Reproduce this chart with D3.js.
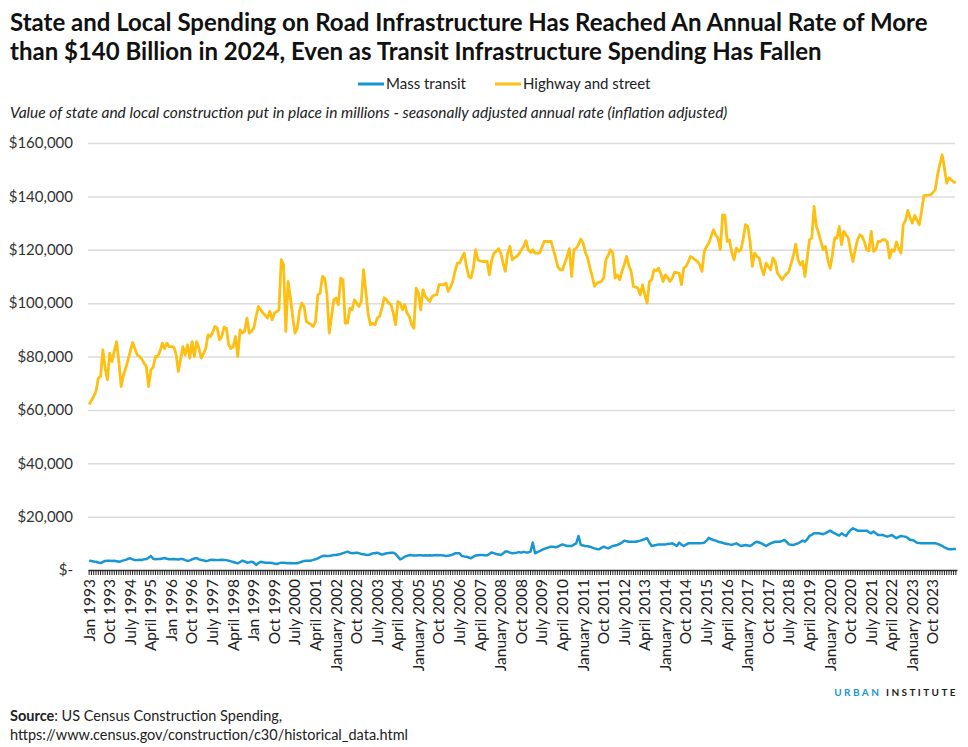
<!DOCTYPE html>
<html lang="en">
<head>
    <meta charset="UTF-8">
    <title>Road vs transit spending</title>
    <script src="https://d3js.org/d3.v7.min.js"></script>
    <style>
      body{
          margin: 0;
          background: #fff;
      }
      svg text{
          font-family: Lato, "Noto Sans", sans-serif;
      }
    </style>
</head>
<body>
    <script>
        // monthly values, Jan 1993 - Aug 2024, millions (SAAR, inflation adjusted)
        const startYear = 1993;
        const highway = [
            62000,63500,65000,67000,71900,72500,82500,75600,71250,81250,78100,82000,
            85600,78000,68750,73000,75600,78750,82000,85250,83000,80600,80000,79000,
            77500,76250,68750,75000,76000,80000,80000,82000,85000,83000,85000,83700,
            83700,83500,81000,74400,79000,83700,80600,84400,79400,85600,80000,85600,
            83000,79400,81000,83000,88100,87500,89000,91250,90600,86250,87500,91000,
            90600,84400,83000,83700,87500,80000,90000,88750,89500,94400,88750,89500,
            90600,95000,98750,97500,96250,95500,94400,97000,93750,96250,96800,97500,
            116250,114400,89400,108100,101900,95000,88750,90600,97000,100000,98750,93100,
            92500,92000,91250,93100,103100,103750,110000,109400,103100,88750,95000,101250,
            101900,99400,109400,108750,92500,92500,98100,97500,101250,100000,98750,100600,
            112500,104400,96000,91900,92500,91900,94400,95000,98000,102000,101250,100000,
            99400,96250,91900,100600,100000,97500,99400,96250,95000,92000,90600,105600,
            103750,97500,105000,102500,101500,100600,102500,103000,103100,106900,106900,106900,
            107500,104400,106000,108100,112000,115000,115000,117000,118750,113750,110000,109400,
            113000,120000,116250,115800,115600,115600,115600,110600,116000,118750,119400,120400,
            118750,115000,111900,118750,121250,116250,117000,117500,118500,120000,121250,123400,
            120000,119000,120000,118750,118750,118750,121000,123100,123100,123100,123100,120000,
            116900,113500,112500,112500,115000,117500,120400,110000,120000,120600,122000,124000,
            122500,119000,116900,113100,110000,106250,107500,107800,108100,109400,116250,118000,
            120000,118750,109400,110600,108750,112000,114400,117500,114000,111900,106250,106000,
            105600,103100,106900,103000,100000,108100,108750,112500,112100,113100,111000,108100,
            110600,109500,108100,109400,111600,111400,111250,106900,113100,113750,115500,117500,
            116900,116200,115600,114400,111900,119400,121250,122500,125000,127500,125500,124400,
            120000,133100,132900,123100,123750,119000,116250,120600,119400,120000,124000,129400,
            128750,123100,113750,118750,117500,116900,113100,110600,115000,113750,112500,116900,
            115600,111250,110000,108750,110000,111000,111900,115000,118000,122100,116250,114400,
            115600,110000,117000,123750,124400,136250,128750,126250,123000,120000,121250,116250,
            113100,118000,124400,124400,128750,121900,126900,125500,124400,119400,115600,120000,
            123750,125600,125000,123000,120000,119600,126900,119400,120000,123100,123100,123750,
            123750,123000,116900,120000,119400,122900,120500,118750,129400,131000,134750,131900,
            130000,132900,131000,129400,134400,140250,140400,140500,140600,141500,142500,148100,
            152000,155600,150600,145000,146900,146250,145500,145000
        ];
        const transit = [
            3500,3400,3200,3100,2800,2600,3000,3400,3500,3500,3400,3500,
            3300,3100,3300,3600,3800,4200,4400,4000,3750,3700,3800,3750,
            4000,4100,4600,5250,4200,4000,4100,4100,4300,4500,4200,4000,
            4000,4100,4000,3900,4100,4100,3700,3400,3600,4000,4300,4500,
            4000,3750,3600,3400,3500,3750,3800,3750,3700,3750,3800,3750,
            3700,3500,3250,3000,2700,2500,3000,3500,3200,2750,2900,3100,
            2800,1900,2600,3100,2900,2750,2700,2750,2600,2400,2250,2500,
            2750,2700,2600,2500,2600,2500,2500,2550,2800,3100,3400,3500,
            3500,3500,3800,4000,4400,4800,5250,5300,5250,5250,5400,5600,
            5600,5800,6000,6300,6600,6900,6500,6250,6400,6500,6300,6000,
            5900,5700,5600,5900,6250,6300,6500,6100,5750,6000,6250,6400,
            6500,6500,6000,5000,4000,4400,5000,5300,5600,5500,5400,5400,
            5500,5500,5400,5500,5400,5500,5400,5500,5600,5500,5500,5400,
            5250,5300,5500,5800,6250,6250,6250,5250,5100,5000,4700,4400,
            5000,5400,5500,5600,5600,5500,5500,6000,6600,6300,6000,5800,
            5600,6200,6900,6900,6500,6250,6400,6500,6700,6500,6800,6600,
            6600,6900,10250,6250,6700,7100,7500,7900,8200,8500,8750,8700,
            8500,8800,9200,9600,9300,9000,9000,9000,9500,10000,12750,9400,
            9200,9000,8900,8750,8400,8100,7900,7750,8300,8750,8400,8100,
            8600,9000,9200,9400,9800,10300,11000,10800,10600,10600,10600,10600,
            10800,11000,11250,11600,11900,10200,9000,9200,9400,9600,9600,9600,
            9600,9700,9800,10000,9500,9000,10250,9500,9000,9500,10000,10000,
            10000,10000,10000,10000,10100,10250,11000,12100,11500,11250,11000,10600,
            10400,10200,9900,9750,9600,9400,9700,10000,9500,9000,9200,9400,
            9200,9000,9500,10200,10600,10300,10000,9500,9000,9500,10000,10300,
            10600,10600,10600,10900,11250,10500,9600,9500,9400,9700,10000,10500,
            11000,10600,11500,12750,13200,13750,13750,13750,13600,13400,13800,14300,
            14750,14200,13750,13300,12900,13750,13200,12750,14000,15000,15600,15200,
            14750,14750,14750,14750,14750,14200,13750,14400,13800,13100,13100,13100,
            12800,12500,12800,13100,12500,11900,12400,12750,12600,12500,12000,11250,
            11250,10800,10250,10100,10000,10000,10000,10000,10000,10000,10000,9800,
            9400,9000,8500,8100,7750,7800,7900,7900
        ];
        // one label every 9 months, starting Jan 1993
        const tickLabels = [
            "Jan 1993","Oct 1993","July 1994","April 1995","Jan 1996","Oct 1996","July 1997",
            "April 1998","Jan 1999","Oct 1999","July 2000","April 2001","January 2002","Oct 2002",
            "July 2003","April 2004","January 2005","Oct 2005","July 2006","April 2007",
            "January 2008","Oct 2008","July 2009","April 2010","January 2011","Oct 2011",
            "July 2012","April 2013","January 2014","Oct 2014","July 2015","April 2016",
            "January 2017","Oct 2017","July 2018","April 2019","January 2020","Oct 2020",
            "July 2021","April 2022","January 2023","Oct 2023"
        ];
        const yTicks = [0,20000,40000,60000,80000,100000,120000,140000,160000];
        const seriesNames = ["Mass transit","Highway and street"];
        const seriesColors = ["#1696d2","#fdbf11"];

        let width = 968;
        let height = 747;
        const margin = {left: 88, right: 11, top: 143, bottom: 177};

        const svg = d3.select("body").append("svg")
            .attr("width", width)
            .attr("height", height);

        const months = d3.range(highway.length);
        const x = d3.scaleBand()
            .domain(months)
            .range([margin.left, width - margin.right])
            .padding(0);
        const y = d3.scaleLinear()
            .domain([0,160000])
            .range([height - margin.bottom, margin.top]);

        // title
        const title = svg.append("text")
            .attr("x", 10)
            .style("font-weight", "bold")
            .style("font-size", "24px")
            .style("fill", "#111");
        title.append("tspan").attr("x", 10).attr("y", 31)
            .text("State and Local Spending on Road Infrastructure Has Reached An Annual Rate of More");
        title.append("tspan").attr("x", 10).attr("y", 60)
            .text("than $140 Billion in 2024, Even as Transit Infrastructure Spending Has Fallen");

        // legend
        const legend = svg.append("g").attr("transform", "translate(358,89)");
        const legendX = [0, 137];
        seriesNames.forEach(function(name, i){
            const lg = legend.append("g").attr("transform", `translate(${legendX[i]},0)`);
            lg.append("line")
                .attr("x1", 0).attr("x2", 26)
                .attr("y1", -5).attr("y2", -5)
                .style("stroke", seriesColors[i])
                .style("stroke-width", 3);
            lg.append("text")
                .attr("x", 28).attr("y", 0)
                .style("font-size", "15px")
                .style("fill", "#222")
                .text(name);
        });

        svg.append("text")
            .attr("x", 10).attr("y", 118)
            .style("font-style", "italic")
            .style("font-size", "15.5px")
            .style("fill", "#222")
            .text("Value of state and local construction put in place in millions - seasonally adjusted annual rate (inflation adjusted)");

        // grid + y labels
        const fmt = d3.format(",");
        const yAxis = svg.append("g")
            .attr("transform", `translate(${margin.left},0)`)
            .call(d3.axisLeft(y)
                .tickValues(yTicks)
                .tickSize(-(width - margin.left - margin.right - 2))
                .tickPadding(15)
                .tickFormat(d => d === 0 ? "$-" : "$" + fmt(d)));
        yAxis.select(".domain").remove();
        yAxis.selectAll(".tick line")
            .style("stroke", d => d === 0 ? "none" : "#dcdcdc")
            .style("stroke-width", 1.5);
        yAxis.selectAll(".tick text")
            .style("font-size", "15px")
            .style("fill", "#333")
            .style("font-family", "Lato, sans-serif");

        // lines
        const line = d3.line()
            .x((d, i) => x(i) + x.bandwidth() / 2)
            .y(d => y(d));
        [transit, highway].forEach(function(values, i){
            svg.append("path")
                .datum(values)
                .attr("d", line)
                .style("fill", "none")
                .style("stroke", seriesColors[i])
                .style("stroke-width", i === 0 ? 2.5 : 2.8)
                .style("stroke-linejoin", "round");
        });

        // x axis: one tick per month, label every 9 months
        const x0 = height - margin.bottom;
        const xTicks = svg.append("g")
            .attr("transform", `translate(0,${x0})`)
            .call(d3.axisBottom(x)
                .tickValues(months)
                .tickSize(5)
                .tickSizeOuter(0)
                .tickFormat(""));
        xTicks.select(".domain").style("stroke", "#333").style("stroke-width", 1.5);
        xTicks.selectAll(".tick line").style("stroke", "#222").style("stroke-width", 1);

        const labelAxis = svg.append("g")
            .attr("transform", `translate(0,${x0})`)
            .call(d3.axisBottom(x)
                .tickValues(months.filter(m => m % 9 === 0))
                .tickSize(0)
                .tickFormat(m => tickLabels[m / 9]));
        labelAxis.select(".domain").remove();
        labelAxis.selectAll(".tick text")
            .attr("transform", "rotate(-90)")
            .attr("x", -9)
            .attr("y", 0)
            .attr("dy", "0.35em")
            .style("text-anchor", "end")
            .style("font-size", "15.5px")
            .style("fill", "#222")
            .style("font-family", "Lato, sans-serif");

        // branding
        const brand = svg.append("text")
            .attr("x", width - 10).attr("y", 696)
            .style("text-anchor", "end")
            .style("font-size", "10px")
            .style("font-weight", "bold")
            .style("letter-spacing", "2.4px");
        brand.append("tspan").style("fill", "#1696d2").text("URBAN ");
        brand.append("tspan").style("fill", "#222").text("INSTITUTE");

        // source
        const src = svg.append("text")
            .attr("x", 10).attr("y", 721)
            .style("font-size", "14.5px")
            .style("fill", "#222");
        src.append("tspan").style("font-weight", "bold").text("Source");
        src.append("tspan").text(": US Census Construction Spending,");
        svg.append("text")
            .attr("x", 10).attr("y", 740)
            .style("font-size", "14.5px")
            .style("fill", "#222")
            .text("https://www.census.gov/construction/c30/historical_data.html");
    </script>
</body>
</html>
